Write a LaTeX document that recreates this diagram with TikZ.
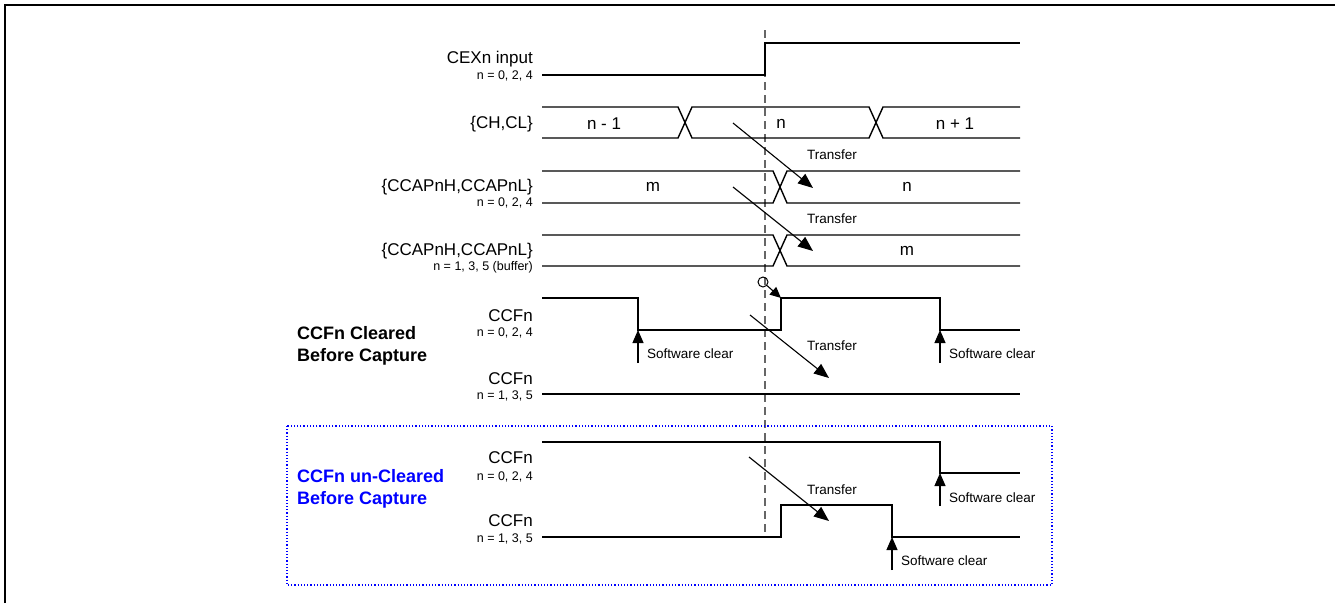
\documentclass[tikz,border=0pt]{standalone}
\usepackage{fontspec}
\setmainfont{Liberation Sans}
\usetikzlibrary{arrows.meta}
\definecolor{lblue}{RGB}{0,0,255}
\begin{document}
\begin{tikzpicture}[x=1pt,y=-1pt,
  sig/.style={line width=1.4pt},
  tr/.style={line width=1.1pt,-{Triangle[length=15pt,width=12pt]}},
  sw/.style={line width=1.1pt,-{Triangle[length=13pt,width=11pt]}},
  mainlbl/.style={anchor=east,font=\fontsize{17}{19}\selectfont,inner sep=0pt},
  sublbl/.style={anchor=east,font=\fontsize{12.5}{14}\selectfont,inner sep=0pt},
  val/.style={font=\fontsize{17}{19}\selectfont,inner sep=0pt},
  note/.style={anchor=west,font=\fontsize{13.5}{15}\selectfont,inner sep=0pt},
  grp/.style={anchor=west,align=left,font=\fontsize{18}{22}\selectfont\bfseries,inner sep=0pt}]
\useasboundingbox (0,0) rectangle (1335,603);
\draw[line width=2.5pt] (5,603) -- (5,5) -- (1335,5);
% dashed time marker
\draw[line width=1.1pt,dash pattern=on 8pt off 5pt,gray!80!black] (765,30) -- (765,537);
% group box
\draw[lblue,line width=1.2pt,dotted] (287,426) rectangle (1052,585);
% labels
\node[mainlbl] (l1) at (533,59) {CEXn input};
\node[sublbl] (s1) at (533,76) {n = 0, 2, 4};
\node[mainlbl] (l2) at (533,124) {\{CH,CL\}};
\node[mainlbl] (l3) at (533,187) {\{CCAPnH,CCAPnL\}};
\node[sublbl] (s3) at (533,203) {n = 0, 2, 4};
\node[mainlbl] (l4) at (533,251) {\{CCAPnH,CCAPnL\}};
\node[sublbl] (s4) at (533,267) {n = 1, 3, 5 (buffer)};
\node[mainlbl] (l5) at (533,316) {CCFn};
\node[sublbl] (s5) at (533,333) {n = 0, 2, 4};
\node[mainlbl] (l6) at (533,379) {CCFn};
\node[sublbl] (s6) at (533,396) {n = 1, 3, 5};
\node[mainlbl] (l7) at (533,458) {CCFn};
\node[sublbl] (s7) at (533,477) {n = 0, 2, 4};
\node[mainlbl] (l8) at (533,521) {CCFn};
\node[sublbl] (s8) at (533,539) {n = 1, 3, 5};
\node[grp] (g1) at (297,346) {CCFn Cleared\\Before Capture};
\node[grp,lblue] (g2) at (297,489) {CCFn un-Cleared\\Before Capture};
% CEXn
\draw[sig] (542,75) -- (765,75) -- (765,43) -- (1020,43);
% CH,CL bus
\draw[sig] (542,107) -- (678,107) -- (692,138) -- (869,138) -- (883,107) -- (1020,107);
\draw[sig] (542,138) -- (678,138) -- (692,107) -- (869,107) -- (883,138) -- (1020,138);
\node[val] (v1) at (604,124) {n - 1};
\node[val] (v2) at (781,124) {n};
\node[val] (v3) at (955,124) {n + 1};
% CCAP 0,2,4
\draw[sig] (542,171) -- (773,171) -- (787,203) -- (1020,203);
\draw[sig] (542,203) -- (773,203) -- (787,171) -- (1020,171);
\node[val] (v4) at (653,187) {m};
\node[val] (v5) at (907,187) {n};
% CCAP buffer
\draw[sig] (542,235) -- (773,235) -- (787,266) -- (1020,266);
\draw[sig] (542,266) -- (773,266) -- (787,235) -- (1020,235);
\node[val] (v6) at (907,251) {m};
% CCFn 0,2,4 (cleared)
\draw[sig] (542,298) -- (638,298) -- (638,330) -- (781,330) -- (781,298) -- (940,298) -- (940,330) -- (1020,330);
% CCFn 1,3,5 (cleared)
\draw[sig] (542,394) -- (1020,394);
% CCFn 0,2,4 (un-cleared)
\draw[sig] (542,442) -- (940,442) -- (940,473) -- (1020,473);
% CCFn 1,3,5 (un-cleared)
\draw[sig] (542,537) -- (781,537) -- (781,505) -- (892,505) -- (892,537) -- (1020,537);
% transfer arrows
\coordinate (a1s) at (733,123); \coordinate (a1e) at (813,188);
\coordinate (a2s) at (733,187); \coordinate (a2e) at (813,251);
\coordinate (a3s) at (750,315); \coordinate (a3e) at (829,378);
\coordinate (a4s) at (749,457); \coordinate (a4e) at (829,521);
\draw[tr] (a1s) -- (a1e);
\draw[tr] (a2s) -- (a2e);
\draw[tr] (a3s) -- (a3e);
\draw[tr] (a4s) -- (a4e);
\node[note] (t1) at (807,155) {Transfer};
\node[note] (t2) at (807,219) {Transfer};
\node[note] (t3) at (807,346) {Transfer};
\node[note] (t4) at (807,490) {Transfer};
% capture event
\node[circle,draw,line width=1pt,minimum size=10pt,inner sep=0pt] (ev) at (763,282) {};
\coordinate (evt) at (781,298);
\draw[line width=1.1pt,-{Triangle[length=11pt,width=10pt]}] (ev) -- (evt);
% software clear
\coordinate (c1s) at (638,363); \coordinate (c1e) at (638,330);
\coordinate (c2s) at (940,363); \coordinate (c2e) at (940,330);
\coordinate (c3s) at (940,506); \coordinate (c3e) at (940,473);
\coordinate (c4s) at (892,570); \coordinate (c4e) at (892,537);
\draw[sw] (c1s) -- (c1e);
\draw[sw] (c2s) -- (c2e);
\draw[sw] (c3s) -- (c3e);
\draw[sw] (c4s) -- (c4e);
\node[note] (w1) at (647,354) {Software clear};
\node[note] (w2) at (949,354) {Software clear};
\node[note] (w3) at (949,498) {Software clear};
\node[note] (w4) at (901,561) {Software clear};
\end{tikzpicture}
\end{document}
